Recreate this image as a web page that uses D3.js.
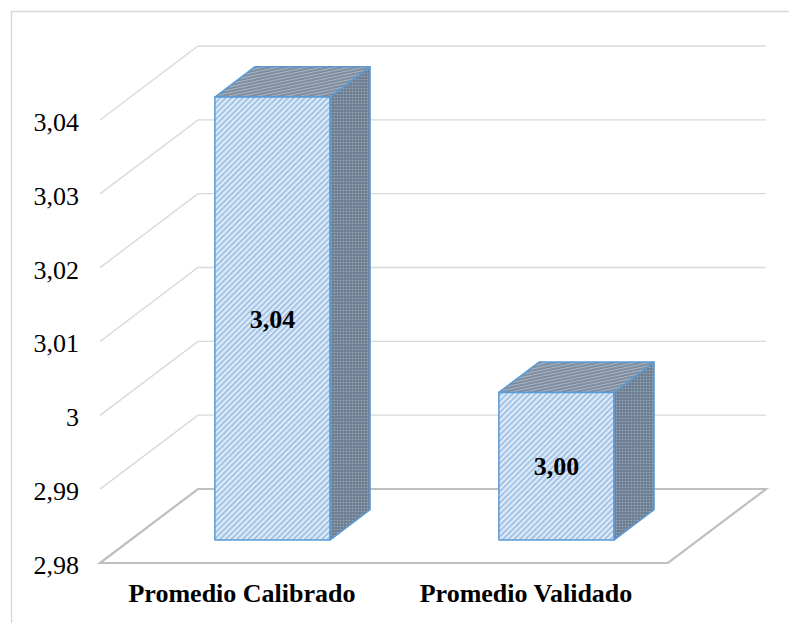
<!DOCTYPE html>
<html>
<head>
<meta charset="utf-8">
<script src="https://cdn.jsdelivr.net/npm/d3@7"></script>
<style>
  html, body { margin: 0; padding: 0; background: #ffffff; }
  svg { display: block; }
</style>
</head>
<body>
<svg id="chart" width="789" height="623"></svg>
<script>
// ---- data ----
const categories = ["Promedio Calibrado", "Promedio Validado"];
const values = [3.04, 3.00];
const tickValues = [2.98, 2.99, 3.00, 3.01, 3.02, 3.03, 3.04];
const tickLabels = ["2,98", "2,99", "3", "3,01", "3,02", "3,03", "3,04"];
const valueLabels = ["3,04", "3,00"];

// ---- layout ----
const floorLeft = 100, floorRight = 668, floorFront = 563;
const depthDX = 98, depthDY = 74;        // projection offset for full depth
const barD0 = 0.31, barD1 = 0.72;        // bar depth span (fraction of floor depth)
const FONT = '"Liberation Serif"';

const svg = d3.select("#chart");

const x = d3.scaleBand().domain(categories).range([floorLeft, floorRight])
  .paddingInner(0.595).paddingOuter(0.2975);
const y = d3.scaleLinear().domain([2.98, 3.04]).range([floorFront, 120]);

const P = (sx, v, d) => [sx + d * depthDX, y(v) - d * depthDY];

// ---- patterns ----
const defs = svg.append("defs");
const pf = defs.append("pattern").attr("id", "pFront").attr("patternUnits", "userSpaceOnUse")
  .attr("width", 4).attr("height", 4).attr("patternTransform", "rotate(45)");
pf.append("rect").attr("width", 4).attr("height", 4).attr("fill", "#deebf8");
pf.append("rect").attr("width", 1.8).attr("height", 4).attr("fill", "#9fc0e4");

const ps = defs.append("pattern").attr("id", "pSide").attr("patternUnits", "userSpaceOnUse")
  .attr("width", 3).attr("height", 3);
ps.append("rect").attr("width", 3).attr("height", 3).attr("fill", "#6f8094");
ps.append("circle").attr("cx", 1.5).attr("cy", 1.5).attr("r", 0.8).attr("fill", "#9eabb9");

const pt = defs.append("pattern").attr("id", "pTop").attr("patternUnits", "userSpaceOnUse")
  .attr("width", 3).attr("height", 3).attr("patternTransform", "rotate(-12)");
pt.append("rect").attr("width", 3).attr("height", 3).attr("fill", "#7a899c");
pt.append("rect").attr("width", 3).attr("height", 1.2).attr("fill", "#a8b4c2");

// ---- chart border ----
svg.append("rect").attr("x", 11.5).attr("y", 11.5).attr("width", 900).attr("height", 800)
  .attr("fill", "none").attr("stroke", "#d9d9d9").attr("stroke-width", 1.5);

// ---- walls ----
const walls = svg.append("g").attr("fill", "none").attr("stroke", "#d9d9d9").attr("stroke-width", 1.4);
tickValues.filter(v => v > 2.98).forEach(v => {
  walls.append("path").attr("d", d3.line()([P(floorLeft, v, 0), P(floorLeft, v, 1), P(floorRight, v, 1)]));
});

// ---- floor ----
const fl = [P(floorLeft, 2.98, 0), P(floorRight, 2.98, 0), P(floorRight, 2.98, 1), P(floorLeft, 2.98, 1)];
svg.append("path").attr("d", d3.line()(fl) + "Z")
  .attr("fill", "none").attr("stroke", "#bfbfbf").attr("stroke-width", 2.2);

// ---- bars ----
const bars = svg.append("g");
const labels = svg.append("g");
categories.forEach((c, i) => {
  const v = values[i];
  const xl = x(c), xr = x(c) + x.bandwidth();
  const g = bars.append("g").attr("stroke", "#5b9bd5").attr("stroke-width", 1.5).attr("stroke-linejoin", "round");
  const side = [P(xr, 2.98, barD0), P(xr, 2.98, barD1), P(xr, v, barD1), P(xr, v, barD0)];
  const top = [P(xl, v, barD0), P(xl, v, barD1), P(xr, v, barD1), P(xr, v, barD0)];
  const front = [P(xl, 2.98, barD0), P(xr, 2.98, barD0), P(xr, v, barD0), P(xl, v, barD0)];
  g.append("path").attr("d", d3.line()(side) + "Z").attr("fill", "url(#pSide)");
  g.append("path").attr("d", d3.line()(top) + "Z").attr("fill", "url(#pTop)");
  g.append("path").attr("d", d3.line()(front) + "Z").attr("fill", "url(#pFront)");
  const fTop = P(xl, v, barD0)[1], fBot = P(xl, 2.98, barD0)[1];
  labels.append("text")
    .attr("x", (xl + xr) / 2 + barD0 * depthDX)
    .attr("y", (fTop + fBot) / 2)
    .attr("dy", "0.35em")
    .attr("text-anchor", "middle")
    .style("font-family", FONT).style("font-size", "26px").style("font-weight", "bold")
    .style("fill", "#000")
    .text(valueLabels[i]);
});

// ---- y axis ----
const yAxis = svg.append("g").attr("transform", `translate(${floorLeft},0)`)
  .call(d3.axisLeft(y).tickValues(tickValues).tickFormat((d, i) => tickLabels[i]).tickSize(0).tickPadding(21));
yAxis.select(".domain").remove();
yAxis.attr("font-family", FONT).attr("font-size", 26);
yAxis.selectAll("text").style("font-family", FONT).style("font-size", "26px").style("fill", "#000").attr("dy", "0.4em");

// ---- x axis ----
const xAxis = svg.append("g").attr("transform", `translate(0,${floorFront})`)
  .call(d3.axisBottom(x).tickSize(0).tickPadding(20.5));
xAxis.select(".domain").remove();
xAxis.attr("font-family", FONT).attr("font-size", 26);
xAxis.selectAll("text").style("font-family", FONT).style("font-size", "26px").style("font-weight", "bold").style("fill", "#000");
</script>
</body>
</html>
